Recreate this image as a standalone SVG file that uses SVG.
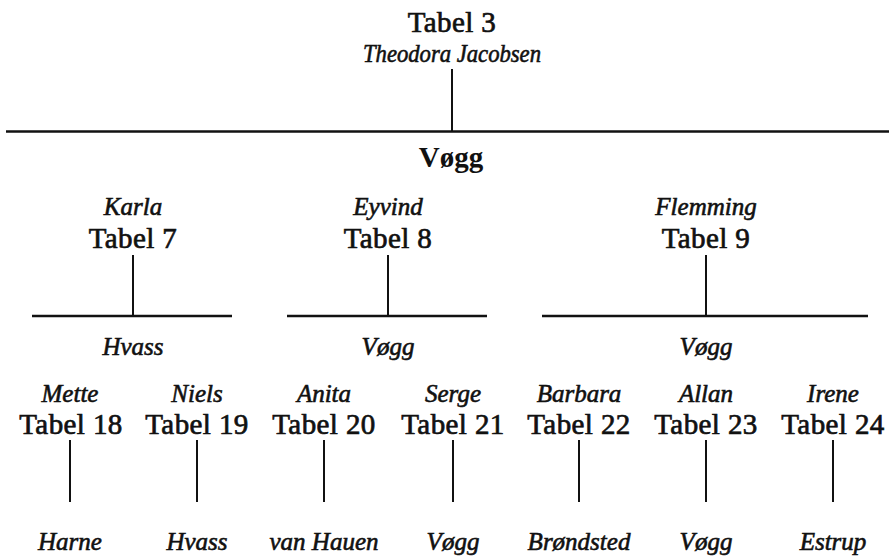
<svg xmlns="http://www.w3.org/2000/svg" width="889" height="558" viewBox="0 0 889 558">
<style>
.t{font-family:"Liberation Serif","Times New Roman",serif;font-size:29px;fill:#111;stroke:#111;stroke-width:0.7;letter-spacing:0.4px;text-anchor:middle}
.b{font-family:"Liberation Serif","Times New Roman",serif;font-size:29px;font-weight:bold;fill:#111;text-anchor:middle}
.i{font-family:"Liberation Serif","Times New Roman",serif;font-size:25px;font-style:italic;fill:#111;stroke:#111;stroke-width:0.6;text-anchor:middle}
.ln{stroke:#111;stroke-width:2;fill:none}
.hl{stroke:#111;stroke-width:2.5;fill:none}
</style>
<rect width="889" height="558" fill="#fff"/>
<g id="connectors">
<line class="ln" x1="452" y1="69" x2="452" y2="131"/>
<line class="hl" x1="6" y1="131.5" x2="889" y2="131.5"/>
<line class="ln" x1="133" y1="255" x2="133" y2="316"/>
<line class="hl" x1="32" y1="316" x2="232" y2="316"/>
<line class="ln" x1="388" y1="255" x2="388" y2="316"/>
<line class="hl" x1="287" y1="316" x2="487" y2="316"/>
<line class="ln" x1="706" y1="255" x2="706" y2="316"/>
<line class="hl" x1="542" y1="316" x2="868" y2="316"/>
<line class="ln" x1="70" y1="440" x2="70" y2="502"/>
<line class="ln" x1="197" y1="440" x2="197" y2="502"/>
<line class="ln" x1="324" y1="440" x2="324" y2="502"/>
<line class="ln" x1="453" y1="440" x2="453" y2="502"/>
<line class="ln" x1="579" y1="440" x2="579" y2="502"/>
<line class="ln" x1="706" y1="440" x2="706" y2="502"/>
<line class="ln" x1="833" y1="440" x2="833" y2="502"/>
</g>
<g id="tabel3">
<text class="t" x="452" y="32">Tabel 3</text>
<text class="i" x="452" y="62" textLength="178" lengthAdjust="spacingAndGlyphs">Theodora Jacobsen</text>
</g>
<g id="family-voegg">
<text class="b" x="451" y="167">Vøgg</text>
</g>
<g id="tabel7">
<text class="i" x="133" y="215">Karla</text>
<text class="t" x="133" y="248">Tabel 7</text>
<text class="i" x="133" y="355">Hvass</text>
</g>
<g id="tabel8">
<text class="i" x="388" y="215">Eyvind</text>
<text class="t" x="388" y="248">Tabel 8</text>
<text class="i" x="388" y="355">Vøgg</text>
</g>
<g id="tabel9">
<text class="i" x="706" y="215">Flemming</text>
<text class="t" x="706" y="248">Tabel 9</text>
<text class="i" x="706" y="355">Vøgg</text>
</g>
<g id="tabel18">
<text class="i" x="70" y="402">Mette</text>
<text class="t" x="71" y="434">Tabel 18</text>
<text class="i" x="70" y="550">Harne</text>
</g>
<g id="tabel19">
<text class="i" x="197" y="402">Niels</text>
<text class="t" x="197" y="434">Tabel 19</text>
<text class="i" x="197" y="550">Hvass</text>
</g>
<g id="tabel20">
<text class="i" x="324" y="402">Anita</text>
<text class="t" x="324" y="434">Tabel 20</text>
<text class="i" x="324" y="550">van Hauen</text>
</g>
<g id="tabel21">
<text class="i" x="453" y="402">Serge</text>
<text class="t" x="453" y="434">Tabel 21</text>
<text class="i" x="453" y="550">Vøgg</text>
</g>
<g id="tabel22">
<text class="i" x="579" y="402">Barbara</text>
<text class="t" x="579" y="434">Tabel 22</text>
<text class="i" x="579" y="550">Brøndsted</text>
</g>
<g id="tabel23">
<text class="i" x="706" y="402">Allan</text>
<text class="t" x="706" y="434">Tabel 23</text>
<text class="i" x="706" y="550">Vøgg</text>
</g>
<g id="tabel24">
<text class="i" x="833" y="402">Irene</text>
<text class="t" x="833" y="434">Tabel 24</text>
<text class="i" x="833" y="550">Estrup</text>
</g>
</svg>
